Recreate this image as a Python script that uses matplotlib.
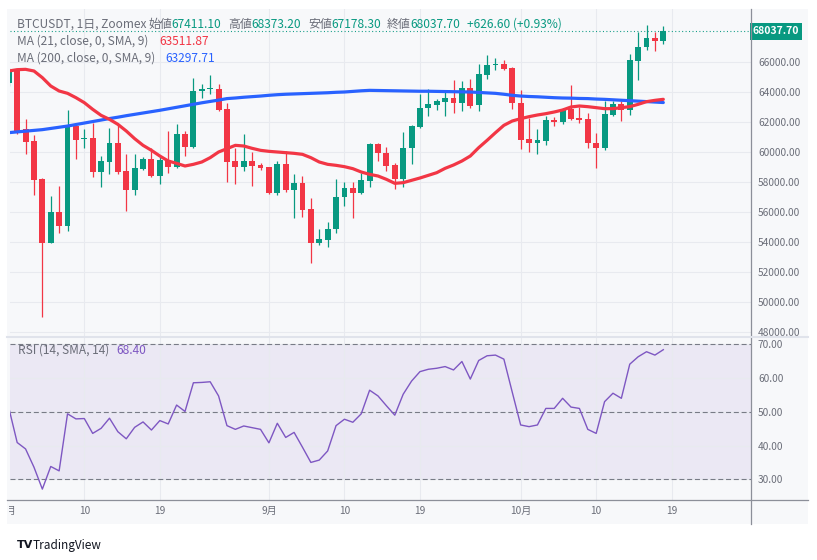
import numpy as np
import matplotlib
matplotlib.use('Agg')
import matplotlib.pyplot as plt
import matplotlib.transforms as mtrans
from matplotlib.lines import Line2D
from matplotlib.patches import Rectangle
from matplotlib.transforms import Bbox, TransformedBbox, blended_transform_factory

plt.rcParams['font.family'] = ['Noto Sans CJK JP', 'DejaVu Sans']

# daily candles, 1 Aug .. 18 Oct (BTCUSDT, Zoomex)
opens = [64622, 65444, 61556, 60711, 58178, 53956, 56022, 55067, 61733, 60844,
         60911, 58667, 59333, 60578, 58711, 57467, 58844, 59511, 58400, 59467,
         59000, 61178, 60333, 64067, 64178, 64222, 62844, 59378, 59000, 59378,
         59111, 58978, 57244, 59178, 57467, 57956, 56178, 53956, 54133, 54844,
         57022, 57622, 57289, 58067, 60511, 59956, 59111, 58222, 60267, 61689,
         62956, 63156, 63333, 63578, 63289, 64244, 63111, 65133, 65778, 65844,
         65578, 63289, 60844, 60622, 60733, 62111, 62022, 62844, 62244, 62178,
         60622, 60289, 62467, 63178, 62800, 66067, 67000, 67622, 67411.1]
highs = [65590, 65556, 62178, 61111, 58289, 57067, 57733, 62778, 61778, 61511,
         61911, 59733, 61600, 61778, 59844, 59844, 59689, 60289, 59689, 61378,
         61844, 61400, 64956, 64511, 65111, 64511, 63244, 60244, 61178, 60000,
         59244, 59000, 59400, 60067, 58511, 58400, 56956, 54844, 55333, 58178,
         58000, 58000, 58578, 60622, 60578, 60356, 59244, 61356, 61778, 63844,
         64178, 63556, 64022, 64778, 64733, 64844, 65844, 66444, 66244, 66111,
         65667, 64111, 62289, 61511, 62400, 62356, 62956, 64444, 63022, 62578,
         61289, 63400, 63400, 63400, 66511, 68000, 68444, 68000, 68373.2]
lows = [64400, 61200, 59844, 57133, 49000, 53911, 54622, 54733, 59556, 60289,
        58356, 57667, 58511, 58511, 56067, 57133, 58800, 58350, 57889, 58578,
        58956, 59733, 60289, 63622, 63844, 62756, 58000, 57844, 58733, 57733,
        58800, 57178, 57133, 57333, 55578, 55667, 52578, 53800, 53667, 54622,
        56400, 55578, 57200, 57667, 59400, 58733, 57511, 57667, 59222, 61622,
        62400, 62800, 62400, 62578, 62733, 62956, 62733, 64844, 65467, 65444,
        62889, 60178, 60000, 59867, 60467, 61733, 61844, 62133, 61911, 60289,
        58911, 60133, 62400, 62067, 62467, 64800, 66800, 66733, 67178.3]
closes = [65400, 61333, 60667, 58133, 53956, 56022, 55067, 61733, 60800, 60933,
          58667, 59378, 60578, 58667, 57467, 58911, 59511, 58400, 59467, 59000,
          61178, 60333, 64067, 64178, 64244, 62800, 59333, 59000, 59378, 59067,
          58933, 57244, 59178, 57467, 57956, 56133, 53956, 54178, 54889, 57022,
          57622, 57289, 58111, 60511, 59956, 59067, 58222, 60289, 61733, 62956,
          63178, 63378, 63578, 63289, 64244, 63067, 65178, 65778, 65844, 65556,
          63289, 60800, 60622, 60778, 62111, 62022, 62889, 62222, 62133, 60622,
          60289, 62511, 63178, 62800, 66111, 67022, 67622, 67411.1, 68037.7]

# MA (21, close, 0, SMA, 9)
ma21 = [65400, 65489, 65511, 65400, 64956, 64400, 64067, 63911, 63622, 63289,
        62844, 62444, 62178, 61844, 61400, 60889, 60444, 60111, 59733, 59400,
        59244, 59067, 59178, 59333, 59622, 60000, 60222, 60444, 60400, 60244,
        60111, 60044, 60000, 59956, 59911, 59844, 59622, 59333, 59178, 59111,
        59022, 58889, 58667, 58511, 58400, 58178, 57911, 57956, 58111, 58267,
        58444, 58622, 58911, 59133, 59400, 59733, 60289, 60778, 61289, 61778,
        62067, 62222, 62356, 62467, 62556, 62667, 62800, 63000, 63067, 63022,
        62956, 62889, 62889, 62956, 63022, 63178, 63356, 63444, 63511.87]
# MA (200, close, 0, SMA, 9)
ma200 = [61290, 61340, 61390, 61440, 61490, 61570, 61650, 61730, 61830, 61930,
         62030, 62130, 62230, 62320, 62420, 62510, 62600, 62690, 62780, 62880,
         62980, 63080, 63180, 63280, 63370, 63460, 63560, 63600, 63650, 63690,
         63730, 63780, 63820, 63850, 63870, 63890, 63910, 63930, 63950, 63980,
         64000, 64040, 64080, 64110, 64100, 64090, 64080, 64070, 64060, 64050,
         64050, 64040, 64030, 64020, 64010, 64000, 63970, 63940, 63910, 63850,
         63780, 63730, 63700, 63680, 63650, 63620, 63600, 63590, 63570, 63560,
         63530, 63510, 63480, 63450, 63420, 63390, 63360, 63330, 63297.71]
# RSI (14, SMA, 14)
rsi_vals = [51.2, 40.9, 39.0, 33.6, 27.1, 33.8, 32.5, 49.4, 47.9, 48.0,
            43.6, 45.1, 48.1, 44.1, 42.0, 45.4, 47.0, 44.6, 47.4, 46.4,
            52.0, 50.1, 58.6, 58.7, 58.9, 54.7, 45.9, 44.8, 45.8, 45.3,
            44.8, 40.8, 46.6, 42.4, 43.9, 39.5, 35.0, 35.7, 38.4, 45.9,
            47.8, 46.9, 49.4, 56.4, 54.7, 51.8, 49.0, 55.2, 59.1, 61.9,
            62.6, 62.9, 63.4, 62.4, 64.9, 59.7, 65.2, 66.6, 66.8, 65.6,
            55.8, 46.1, 45.6, 46.1, 51.0, 51.0, 54.0, 51.4, 51.0, 44.8,
            43.6, 53.0, 55.5, 54.0, 64.1, 66.3, 67.8, 66.8, 68.4]

tick_days = [9, 18, 31, 40, 49, 61, 70, 79]
tick_labels = ['10', '19', '9月', '10', '19', '10月', '10', '19']
price_ticks = list(range(48000, 66001, 2000))
rsi_ticks = [30, 40, 50, 60, 70]

GREEN = '#089981'
RED = '#F23645'
BLUE = '#2962FF'
PURPLE = '#7E57C2'
BG = '#F7F8FA'
GRID = '#E8EAEF'
TXT = '#6A6D78'
AXLINE = '#8C8F99'

W, H = 817, 560


def fx(x):
    return x / W


def fy(y):
    return 1 - y / H


fig = plt.figure(figsize=(W / 100, H / 100), dpi=100)
fig.patch.set_facecolor('white')
fig.add_artist(Rectangle((fx(7), fy(524)), (808 - 7) / W, (524 - 9) / H,
                         transform=fig.transFigure, fc=BG, ec='none', zorder=-5))

ax = fig.add_axes([fx(10), fy(337), (751 - 10) / W, (337 - 9) / H])
rs = fig.add_axes([fx(10), fy(500), (751 - 10) / W, (500 - 337) / H], sharex=ax)

days = np.arange(len(closes))
o = np.array(opens)
c = np.array(closes)
up = c >= o
cols = np.where(up, GREEN, RED)

for a in (ax, rs):
    a.set_facecolor('none')
    for s in a.spines.values():
        s.set_visible(False)
    a.set_axisbelow(True)
    a.set_xticks(tick_days)
    a.grid(True, color=GRID, lw=0.8)
    a.yaxis.tick_right()
    a.tick_params(axis='y', length=0, pad=5, labelsize=7.3, labelcolor=TXT)

# price pane
ax.vlines(days, lows, highs, colors=cols, lw=0.9, zorder=2)
ax.bar(days, np.maximum(np.abs(c - o), 60), bottom=np.minimum(o, c),
       width=0.7, color=cols, lw=0, zorder=2)
ax.plot(days, ma200, color=BLUE, lw=2.3, zorder=3, solid_capstyle='round')
ax.plot(days, ma21, color=RED, lw=2.3, zorder=3, solid_capstyle='round')
ax.axhline(closes[-1], color=GREEN, lw=0.8, ls=(0, (0.9, 2.2)), zorder=1)

ax.set_xlim(0.145, 88.45)
ax.set_ylim(47667, 69533)
ax.set_yticks(price_ticks)
ax.set_yticklabels([f'{v:.2f}' for v in price_ticks])
ax.tick_params(axis='x', length=0, labelbottom=False)
clipbox = TransformedBbox(Bbox([[fx(751), fy(336)], [1, fy(9)]]), fig.transFigure)
for t in ax.get_yticklabels():
    t.set_clip_on(True)
    t.set_clip_box(clipbox)

trans = blended_transform_factory(ax.transAxes, ax.transData)
ax.text(1.0025, closes[-1], f'{closes[-1]:.2f}', transform=trans, ha='left', va='center',
        fontsize=7.5, color='white', fontweight='bold', clip_on=False,
        bbox=dict(boxstyle='square,pad=0.3', fc=GREEN, ec='none'))

# RSI pane
rs.axhspan(30, 70, color='#EBE8F4', lw=0, zorder=0.2)
for lvl in (70, 50, 30):
    rs.axhline(lvl, color='#787B86', lw=0.8, ls=(0, (4.5, 2.5)), zorder=1)
rs.plot(days, rsi_vals, color=PURPLE, lw=1.0, zorder=3)
rs.set_ylim(23.87, 72.16)
rs.set_yticks(rsi_ticks)
rs.set_yticklabels([f'{v:.2f}' for v in rsi_ticks])
rs.set_xticklabels(tick_labels)
rs.tick_params(axis='x', length=0, pad=4, labelsize=7.3, labelcolor=TXT)

# first month label, cut by the chart edge
tx = blended_transform_factory(rs.transData, rs.transAxes)
lab = rs.text(0, 0, '8月', ha='center', va='top', fontsize=7.3, color=TXT,
              transform=tx + mtrans.ScaledTranslation(0, -4 / 72 - 0.005, fig.dpi_scale_trans))
lab.set_clip_on(True)
lab.set_clip_box(TransformedBbox(Bbox([[fx(9), 0], [1, 1]]), fig.transFigure))

# frame lines
fig.add_artist(Line2D([fx(751), fx(751)], [fy(9), fy(524)], color=AXLINE, lw=0.9))
fig.add_artist(Line2D([fx(7), fx(808)], [fy(500), fy(500)], color=AXLINE, lw=0.9))
fig.add_artist(Line2D([fx(7), fx(808)], [fy(337), fy(337)], color='#E0E3EB', lw=1.5))

# legend rows: each group starts at the x
renderer = fig.canvas.get_renderer()
LS = 8.6


def group(x, y, parts, gap=0):
    for s, col in parts:
        t = fig.text(fx(x), fy(y), s, color=col, fontsize=LS, ha='left', va='center')
        x += t.get_window_extent(renderer).width + gap


group(17, 24.5, [('BTCUSDT, 1日, Zoomex', TXT)])
group(148, 24.5, [('始値', TXT), ('67411.10', GREEN)])
group(228, 24.5, [('高値', TXT), ('68373.20', GREEN)])
group(308, 24.5, [('安値', TXT), ('67178.30', GREEN)])
group(387, 24.5, [('終値', TXT), ('68037.70', GREEN)])
group(467, 24.5, [('+626.60 (+0.93%)', GREEN)])
group(17, 41.5, [('MA (21, close, 0, SMA, 9)', TXT)])
group(159, 41.5, [('63511.87', RED)])
group(17, 58.5, [('MA (200, close, 0, SMA, 9)', TXT)])
group(165.5, 58.5, [('63297.71', BLUE)])
group(18, 350.5, [('RSI (14, SMA, 14)', TXT)])
group(116, 350.5, [('68.40', PURPLE)])

# footer
fig.text(fx(17), fy(545), 'TV', fontsize=8, fontweight='heavy', color='#131722',
         family='DejaVu Sans', ha='left', va='center')
fig.text(fx(33), fy(545), 'TradingView', fontsize=8.5, color='#131722', ha='left', va='center')

fig.savefig('out.png', dpi=100)
